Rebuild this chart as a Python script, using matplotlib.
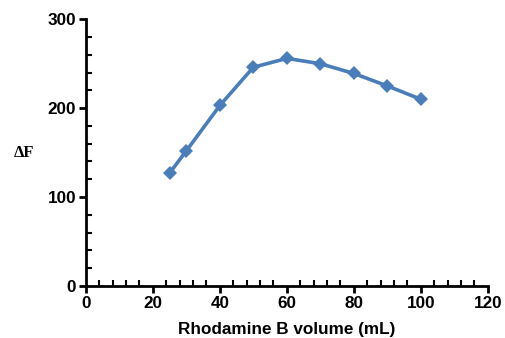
import matplotlib
matplotlib.use('Agg')
import matplotlib.pyplot as plt
from matplotlib.ticker import MultipleLocator

# data
volume = [25, 30, 40, 50, 60, 70, 80, 90, 100]
delta_f = [127, 152, 203, 246, 256, 250, 239, 225, 210]

x_ticks = [0, 20, 40, 60, 80, 100, 120]
y_ticks = [0, 100, 200, 300]

plt.rcParams['font.family'] = ['Liberation Sans', 'DejaVu Sans']

fig = plt.figure(figsize=(5.05, 3.38), dpi=100)
ax = fig.add_axes([0.170, 0.154, 0.796, 0.789])

ax.plot(volume, delta_f, color='#4a7ebb', linewidth=2.6, marker='D',
        markersize=7.5, markeredgewidth=0, clip_on=False)

ax.set_xlim(0, 120)
ax.set_ylim(0, 300)
ax.set_xticks(x_ticks)
ax.set_yticks(y_ticks)
ax.xaxis.set_minor_locator(MultipleLocator(4))
ax.yaxis.set_minor_locator(MultipleLocator(20))

for side in ['top', 'right']:
    ax.spines[side].set_visible(False)
for side in ['left', 'bottom']:
    ax.spines[side].set_linewidth(2)

ax.tick_params(which='major', direction='out', length=5, width=2,
               labelsize=12.3, pad=2)
ax.tick_params(which='minor', direction='in', length=4, width=1.5)
for lbl in ax.get_xticklabels() + ax.get_yticklabels():
    lbl.set_fontweight('bold')

ax.set_xlabel('Rhodamine B volume (mL)', fontsize=12.3, fontweight='bold',
              labelpad=8)
ax.set_ylabel('ΔF', fontsize=12, fontweight='bold', rotation=0,
              family=['Liberation Serif', 'DejaVu Serif'], labelpad=17,
              va='center')

fig.savefig('out.png', dpi=100)
